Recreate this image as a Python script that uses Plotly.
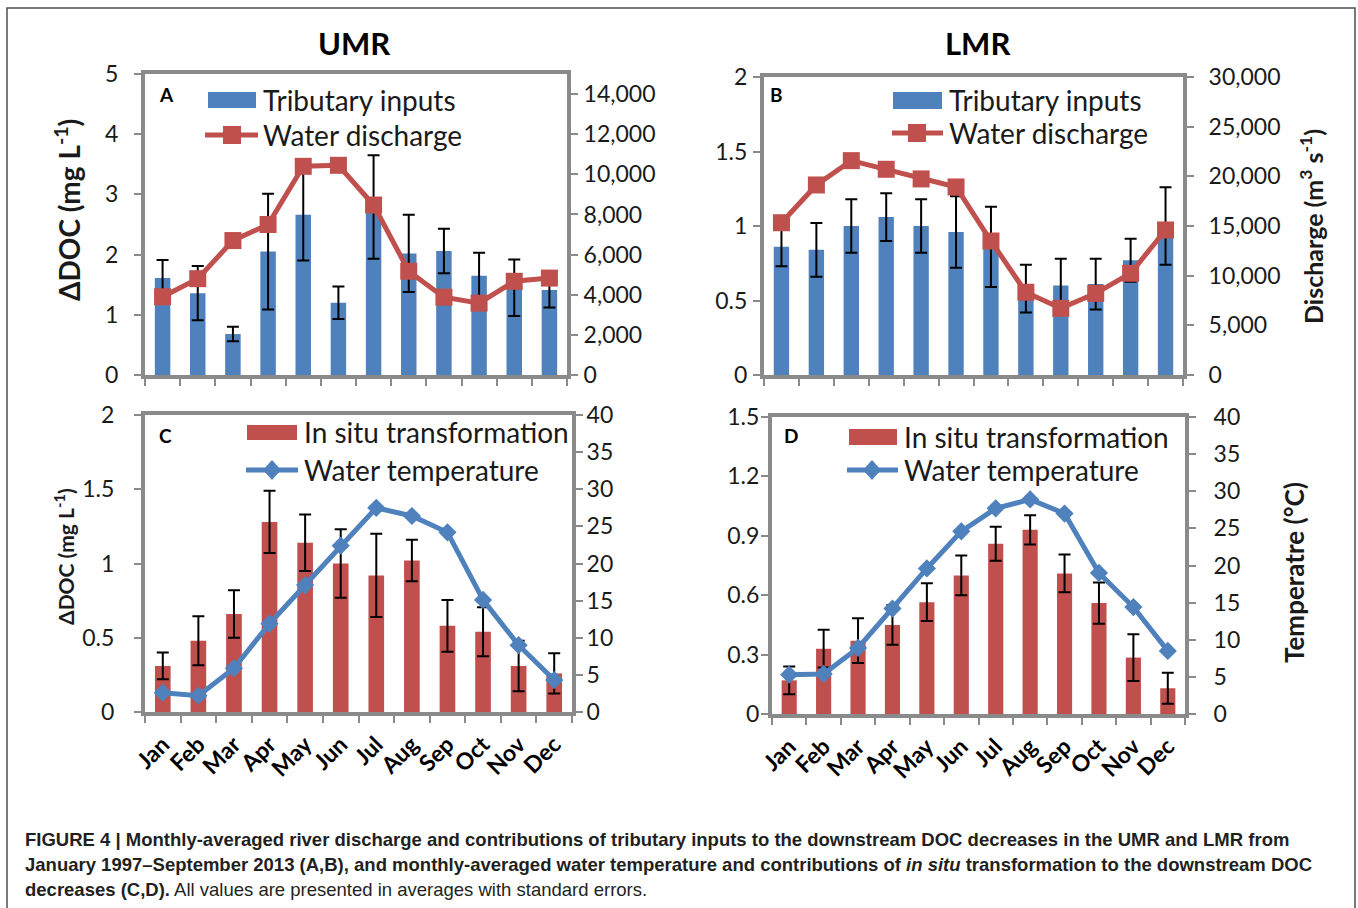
import plotly.graph_objects as go

W, H = 1358, 908

months = ["Jan", "Feb", "Mar", "Apr", "May", "Jun", "Jul", "Aug", "Sep", "Oct", "Nov", "Dec"]

# Panel A - UMR: tributary inputs (mg/L, mean and SE) and water discharge (m3/s)
umr_tributary = [1.61, 1.36, 0.68, 2.05, 2.66, 1.20, 2.79, 2.02, 2.06, 1.65, 1.45, 1.41]
umr_tributary_se = [0.30, 0.45, 0.12, 0.96, 0.76, 0.27, 0.86, 0.64, 0.37, 0.38, 0.47, 0.29]
umr_discharge = [3900, 4800, 6700, 7500, 10400, 10450, 8470, 5170, 3880, 3580, 4670, 4830]

# Panel B - LMR: tributary inputs and water discharge
lmr_tributary = [0.86, 0.84, 1.00, 1.06, 1.00, 0.96, 0.86, 0.58, 0.60, 0.61, 0.77, 1.00]
lmr_tributary_se = [0.13, 0.18, 0.18, 0.16, 0.18, 0.24, 0.27, 0.16, 0.18, 0.17, 0.145, 0.26]
lmr_discharge = [15330, 19130, 21580, 20710, 19740, 18930, 13490, 8330, 6710, 8220, 10240, 14600]

# Panel C - UMR: in situ transformation and water temperature (deg C)
umr_insitu = [0.31, 0.48, 0.66, 1.28, 1.14, 1.00, 0.92, 1.02, 0.58, 0.54, 0.31, 0.26]
umr_insitu_se = [0.09, 0.165, 0.16, 0.21, 0.19, 0.23, 0.28, 0.14, 0.175, 0.165, 0.17, 0.135]
umr_temp = [2.6, 2.2, 5.9, 11.9, 17.1, 22.4, 27.5, 26.4, 24.2, 15.1, 9.0, 4.3]

# Panel D - LMR: in situ transformation and water temperature
lmr_insitu = [0.17, 0.33, 0.37, 0.45, 0.565, 0.70, 0.86, 0.93, 0.71, 0.56, 0.285, 0.13]
lmr_insitu_se = [0.07, 0.095, 0.113, 0.10, 0.095, 0.10, 0.086, 0.074, 0.095, 0.104, 0.118, 0.078]
lmr_temp = [5.3, 5.4, 8.9, 14.2, 19.6, 24.6, 27.7, 28.9, 27.0, 19.0, 14.4, 8.5]

BLUE = "#4F81BD"
RED = "#C0504D"
FRAME = "#8a8a8a"
INK = "#1a1a1a"
FONT = "Lato"


def fx(px):
    return px / W


def fy(py):
    return 1 - py / H


fig = go.Figure()

panels = [
    dict(x="x", y="y", y2="y2", bars=umr_tributary, se=umr_tributary_se, bar_color=BLUE,
         line=umr_discharge, line_color=RED, symbol="square", msize=17),
    dict(x="x2", y="y3", y2="y4", bars=lmr_tributary, se=lmr_tributary_se, bar_color=BLUE,
         line=lmr_discharge, line_color=RED, symbol="square", msize=17),
    dict(x="x3", y="y5", y2="y6", bars=umr_insitu, se=umr_insitu_se, bar_color=RED,
         line=umr_temp, line_color=BLUE, symbol="diamond", msize=14),
    dict(x="x4", y="y7", y2="y8", bars=lmr_insitu, se=lmr_insitu_se, bar_color=RED,
         line=lmr_temp, line_color=BLUE, symbol="diamond", msize=14),
]

for p in panels:
    fig.add_trace(go.Bar(
        x=months, y=p["bars"], xaxis=p["x"], yaxis=p["y"],
        marker=dict(color=p["bar_color"], line=dict(width=0)),
        error_y=dict(type="data", array=p["se"], visible=True, color="black",
                     thickness=2, width=6),
        showlegend=False, hoverinfo="skip",
    ))
    fig.add_trace(go.Scatter(
        x=months, y=p["line"], xaxis=p["x"], yaxis=p["y2"],
        mode="lines+markers",
        line=dict(color=p["line_color"], width=5),
        marker=dict(symbol=p["symbol"], size=p["msize"], color=p["line_color"]),
        showlegend=False, hoverinfo="skip",
    ))

tick_font = dict(family=FONT, size=23, color=INK)
month_font = dict(family=FONT, size=23, color="black", weight="bold")


def x_axis(px0, px1, anchor, labels):
    return dict(
        domain=[fx(px0), fx(px1)], anchor=anchor, type="category", automargin=False,
        range=[-0.5, 11.5], showgrid=False, zeroline=False,
        showline=True, mirror=True, linecolor=FRAME, linewidth=4,
        ticks="outside", tickson="boundaries", ticklen=7, tickwidth=1.5, tickcolor=FRAME,
        showticklabels=labels, tickangle=-45, tickfont=month_font, ticklabelstandoff=6,
    )


def y_left(py0, py1, anchor, rng, dtick, standoff):
    return dict(
        domain=[fy(py1), fy(py0)], anchor=anchor, range=rng, dtick=dtick, tick0=0,
        automargin=False, showgrid=False, zeroline=False,
        showline=True, linecolor=FRAME, linewidth=4,
        ticks="outside", ticklen=7, tickwidth=1.5, tickcolor=FRAME,
        tickfont=tick_font, ticklabelstandoff=standoff,
    )


def y_right(anchor, over, rng, dtick, tvals, fmt, standoff):
    d = dict(
        overlaying=over, side="right", anchor=anchor, range=rng, automargin=False,
        showgrid=False, zeroline=False, showline=True, linecolor=FRAME, linewidth=4,
        ticks="outside", ticklen=7, tickwidth=1.5, tickcolor=FRAME,
        tickfont=tick_font, ticklabelstandoff=standoff,
    )
    if tvals is not None:
        d["tickvals"] = tvals
    else:
        d["dtick"] = dtick
        d["tick0"] = 0
    if fmt:
        d["tickformat"] = fmt
    return d


fig.update_layout(
    template="none",
    width=W, height=H, margin=dict(l=0, r=0, t=0, b=0, pad=0, autoexpand=False),
    paper_bgcolor="white", plot_bgcolor="white",
    barmode="group", bargap=0.56,
    font=dict(family=FONT, color=INK),
    xaxis=x_axis(145, 567, "y", False),
    yaxis=y_left(74, 375, "x", [0, 5], 1, 11),
    yaxis2=y_right("x", "y", [0, 15000], None, list(range(0, 14001, 2000)), ",", 1),
    xaxis2=x_axis(764, 1183, "y3", False),
    yaxis3=y_left(77, 375, "x2", [0, 2], 0.5, 1),
    yaxis4=y_right("x2", "y3", [0, 30000], 5000, None, ",", 10),
    xaxis3=x_axis(145, 572, "y5", True),
    yaxis5=y_left(415, 712, "x3", [0, 2], 0.5, 15),
    yaxis6=y_right("x3", "y5", [0, 40], 5, None, None, -1),
    xaxis4=x_axis(772, 1185, "y7", True),
    yaxis7=y_left(417, 714, "x4", [0, 1.5], 0.3, -3),
    yaxis8=y_right("x4", "y7", [0, 40], 5, None, None, 13),
)

shapes = []
annotations = []


def text(px, py, s, size, bold=False, xanchor="left", angle=0, family=FONT, color=INK):
    annotations.append(dict(
        x=fx(px), y=fy(py), xref="paper", yref="paper", text=s, showarrow=False,
        xanchor=xanchor, yanchor="middle", textangle=angle,
        font=dict(family=family, size=size, color=color, weight="bold" if bold else "normal"),
    ))


def rect(x0, y0, x1, y1, color):
    shapes.append(dict(type="rect", xref="paper", yref="paper",
                       x0=fx(x0), x1=fx(x1), y0=fy(y1), y1=fy(y0),
                       fillcolor=color, line=dict(width=0)))


def hline(x0, x1, py, color, width):
    shapes.append(dict(type="line", xref="paper", yref="paper",
                       x0=fx(x0), x1=fx(x1), y0=fy(py), y1=fy(py),
                       line=dict(color=color, width=width)))


def diamond(cx, cy, rx, ry, color):
    path = (f"M{fx(cx - rx)},{fy(cy)} L{fx(cx)},{fy(cy - ry)} "
            f"L{fx(cx + rx)},{fy(cy)} L{fx(cx)},{fy(cy + ry)} Z")
    shapes.append(dict(type="path", xref="paper", yref="paper", path=path,
                       fillcolor=color, line=dict(width=0)))


LEG = 28

# Panel A key
rect(208, 92, 256, 108, BLUE)
text(261, 100, "Tributary inputs", LEG)
hline(205, 258, 135, RED, 5)
rect(223, 126, 241, 144, RED)
text(261, 135, "Water discharge", LEG)

# Panel B key
rect(893, 92, 942, 109, BLUE)
text(947, 100, "Tributary inputs", LEG)
hline(892, 943, 133, RED, 5)
rect(908, 124, 926, 142, RED)
text(947, 133, "Water discharge", LEG)

# Panel C key
rect(247, 425, 297, 440, RED)
text(302, 432, "In situ transformation", LEG)
hline(246, 298, 470, BLUE, 5)
diamond(272, 470, 9, 10, BLUE)
text(302, 470, "Water temperature", LEG)

# Panel D key
rect(849, 429, 897, 445, RED)
text(902, 437, "In situ transformation", LEG)
hline(847, 898, 470, BLUE, 5)
diamond(872, 470, 9, 10, BLUE)
text(902, 470, "Water temperature", LEG)

# Panel letters
text(157, 95, "A", 19, bold=True, color="black")
text(768, 95, "B", 19, bold=True, color="black")
text(157, 435, "C", 19, bold=True, color="black")
text(782, 436, "D", 19, bold=True, color="black")

# Column titles
text(354, 43, "UMR", 31, bold=True, xanchor="center", color="black")
text(977, 43, "LMR", 31, bold=True, xanchor="center", color="black")

# Axis titles
text(67, 210, "ΔDOC (mg L<sup>-1</sup>)", 28, bold=True, xanchor="center", angle=-90)
text(64, 557, "ΔDOC (mg L<sup>-1</sup>)", 21, bold=True, xanchor="center", angle=-90)
text(1311, 227, "Discharge (m<sup>3</sup> s<sup>-1</sup>)", 25, bold=True, xanchor="center", angle=-90)
text(1294, 573, "Temperatre (°C)", 26, bold=True, xanchor="center", angle=-90)

# Caption
CAP = "Liberation Sans, Arial, sans-serif"
CAP_COLOR = "#231f20"
CAP_SIZE = 18.5
text(23, 839, "<b>FIGURE 4 | Monthly-averaged river discharge and contributions of tributary inputs "
              "to the downstream DOC decreases in the UMR and LMR from</b>", CAP_SIZE, family=CAP, color=CAP_COLOR)
text(23, 864, "<b>January 1997–September 2013 (A,B), and monthly-averaged water temperature and "
              "contributions of <i>in situ</i> transformation to the downstream DOC</b>", CAP_SIZE, family=CAP, color=CAP_COLOR)
text(23, 889, "<b>decreases (C,D).</b> All values are presented in averages with standard errors.",
     CAP_SIZE, family=CAP, color=CAP_COLOR)

# Figure frame
shapes.append(dict(type="rect", xref="paper", yref="paper",
                   x0=fx(7), x1=fx(1355), y0=fy(916), y1=fy(8),
                   line=dict(color="#4d4d4d", width=1.5), fillcolor="rgba(0,0,0,0)"))

fig.update_layout(shapes=shapes, annotations=annotations)

fig.write_html("out.html")
